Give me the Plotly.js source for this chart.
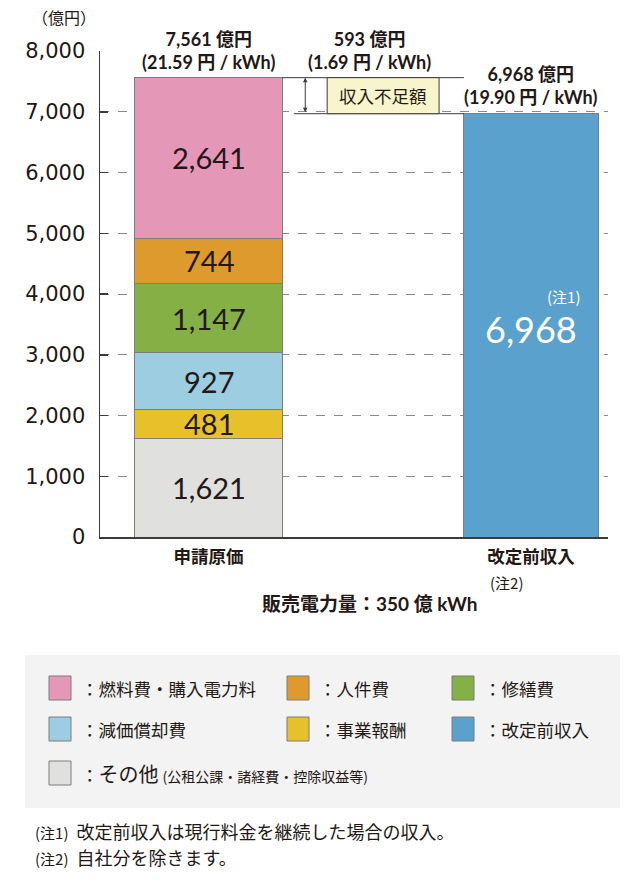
<!DOCTYPE html>
<html><head><meta charset="utf-8">
<script src="https://cdn.plot.ly/plotly-3.0.1.min.js"></script>
<style>html,body{margin:0;padding:0;background:#fff}</style>
</head><body><div id="chart" style="width:640px;height:891px"></div>
<script>
// ---- data ----
const categories = ['申請原価', '改定前収入'];
const costNames = ['その他', '事業報酬', '減価償却費', '修繕費', '人件費', '燃料費・購入電力料'];
const costValues = [1621, 481, 927, 1147, 744, 2641];
const costColors = ['#e0e0df', '#e6c12a', '#9ccde0', '#85b046', '#df9a2e', '#e597b8'];
const revenueName = '改定前収入';
const revenueValues = [6968];
const revenueColor = '#5aa2cd';
const yTickVals = [0, 1000, 2000, 3000, 4000, 5000, 6000, 7000, 8000];
const perKwh = ['21.59', '1.69', '19.90'];
const salesVolume = 350;
const legendRows = [
  ['燃料費・購入電力料', '人件費', '修繕費'],
  ['減価償却費', '事業報酬', '改定前収入'],
  ['その他']
];
const otherNote = '(公租公課・諸経費・控除収益等)';
const notes = [['(注1)', '改定前収入は現行料金を継続した場合の収入。'], ['(注2)', '自社分を除きます。']];

// ---- layout constants ----
const W = 640, H = 891, L = 100, R = 32, T = 51, B = 354;
const plotW = W - L - R, plotH = H - T - B;
const px = x => (x - L) / plotW;
const py = y => (H - B - y) / plotH;
const DARK = '#231815';
const NUMF = 'Lato, "Noto Sans CJK JP", sans-serif';
const JPF = '"Noto Sans CJK JP", sans-serif';
const wCost = 0.456, wRev = 0.416;

const totalCost = costValues.reduce((a, b) => a + b, 0);
const revenue = revenueValues[0];
const shortfall = totalCost - revenue;
const fmt = v => v.toLocaleString('en-US');

const traces = [];
costNames.forEach((n, i) => {
  traces.push({type: 'bar', name: n, x: [categories[0]], y: [costValues[i]], width: [wCost],
    marker: {color: costColors[i], line: {color: '#7d7d7d', width: 1}}, hoverinfo: 'skip', showlegend: false});
});
traces.push({type: 'bar', name: revenueName, x: [categories[1]], y: revenueValues, width: [wRev],
  marker: {color: revenueColor, line: {color: '#7d7d7d', width: 1}}, hoverinfo: 'skip', showlegend: false});

const annotations = [];
const shapes = [];

// segment labels
let cum = 0;
costValues.forEach(v => {
  annotations.push({x: 0, y: cum + v / 2, xref: 'x', yref: 'y', text: fmt(v), showarrow: false,
    font: {family: NUMF, size: 29, color: DARK}});
  cum += v;
});
annotations.push({x: 1, y: revenue / 2, yshift: -4, xref: 'x', yref: 'y', text: fmt(revenue), showarrow: false,
  font: {family: NUMF, size: 36, color: '#ffffff'}});
annotations.push({x: 1, y: revenue / 2, xshift: 32, yshift: 29, xref: 'x', yref: 'y', text: '(注1)', showarrow: false,
  font: {family: JPF, size: 15, color: '#ffffff'}});

// top labels
const topFont = {family: NUMF, size: 18, color: DARK, weight: 'bold'};
annotations.push({x: 0, y: totalCost, yshift: 3, xref: 'x', yref: 'y', yanchor: 'bottom', showarrow: false,
  text: fmt(totalCost) + ' 億円<br>(' + perKwh[0] + ' 円 / kWh)', font: topFont});
annotations.push({x: 0.5, y: totalCost, yshift: 3, xref: 'x', yref: 'y', yanchor: 'bottom', showarrow: false,
  text: fmt(shortfall) + ' 億円<br>(' + perKwh[1] + ' 円 / kWh)', font: topFont});
annotations.push({x: 1, y: revenue, yshift: 4, xref: 'x', yref: 'y', yanchor: 'bottom', showarrow: false,
  text: fmt(revenue) + ' 億円<br>(' + perKwh[2] + ' 円 / kWh)', font: topFont});

// shortfall lines, box, arrow
shapes.push({type: 'line', xref: 'x', yref: 'y', x0: wCost / 2, x1: 1 - wRev / 2, y0: totalCost, y1: totalCost, line: {color: '#3e3a39', width: 1}});
shapes.push({type: 'line', xref: 'x', yref: 'y', x0: 0.265, x1: 1 - wRev / 2, y0: revenue, y1: revenue, line: {color: '#3e3a39', width: 1}});
shapes.push({type: 'rect', xref: 'x', yref: 'y', x0: 0.368, x1: 0.715, y0: revenue, y1: totalCost, fillcolor: '#f8f4cb', line: {color: '#3e3a39', width: 1}});
annotations.push({x: 0.5415, y: (revenue + totalCost) / 2, xref: 'x', yref: 'y', text: '収入不足額', showarrow: false,
  font: {family: JPF, size: 17.5, color: DARK}});
annotations.push({x: 0.30, y: totalCost, ax: 0.30, ay: revenue, xref: 'x', yref: 'y', axref: 'x', ayref: 'y', text: '',
  showarrow: true, arrowside: 'end+start', arrowhead: 2, arrowsize: 0.9, arrowwidth: 1, arrowcolor: '#3e3a39', standoff: 0, startstandoff: 0});

// paper-positioned text helper
const ptext = (x, y, text, font, xanchor) => annotations.push({x: px(x), y: py(y), xref: 'paper', yref: 'paper',
  xanchor: xanchor || 'center', yanchor: 'middle', text: text, showarrow: false, font: font});

ptext(64, 17, '（億円）', {family: JPF, size: 16, color: DARK});
ptext(506, 582, '(注2)', {family: JPF, size: 15, color: DARK});
ptext(370, 603, '販売電力量：' + salesVolume + ' 億 kWh', {family: NUMF, size: 19, color: DARK, weight: 'bold'});

// legend box
shapes.push({type: 'rect', xref: 'paper', yref: 'paper', x0: px(25), x1: px(620), y0: py(655), y1: py(808), fillcolor: '#f3f3f3', line: {width: 0}, layer: 'below'});
const colorOf = n => n === revenueName ? revenueColor : costColors[costNames.indexOf(n)];
const colX = [49, 287, 452];
const rowY = [688, 729, 773];
legendRows.forEach((row, r) => {
  row.forEach((n, c) => {
    const x = colX[c], y = rowY[r];
    shapes.push({type: 'rect', xref: 'paper', yref: 'paper', x0: px(x), x1: px(x + 22), y0: py(y - 12), y1: py(y + 12),
      fillcolor: colorOf(n), line: {color: '#7d7d7d', width: 1}});
    const txt = n === 'その他'
      ? '：<span style="font-size:20px">その他</span> <span style="font-size:14px">' + otherNote + '</span>'
      : '：' + n;
    ptext(x + 30, y, txt, {family: JPF, size: 17.5, color: DARK}, 'left');
  });
});

// footnotes
notes.forEach((nt, i) => {
  ptext(33, 831 + i * 26, '<span style="font-size:15px">' + nt[0] + '</span>  ' + nt[1], {family: JPF, size: 18, color: DARK}, 'left');
});

const layout = {
  width: W, height: H, margin: {l: L, r: R, t: T, b: B},
  paper_bgcolor: '#ffffff', plot_bgcolor: '#ffffff',
  barmode: 'stack', showlegend: false,
  xaxis: {type: 'category', range: [(L - 208.5) / 322.5, 1 + (608 - 531) / 322.5], showgrid: false,
    showline: true, linecolor: '#3e3a39', linewidth: 1.5, ticks: '', zeroline: false,
    tickfont: {family: JPF, size: 17.5, color: DARK, weight: 'bold'}, ticklabelstandoff: 3, fixedrange: true},
  yaxis: {range: [0, 8000], tickvals: yTickVals, ticktext: yTickVals.map(fmt), showgrid: true,
    gridcolor: '#8a8a8a', griddash: 'dash', gridwidth: 1, zeroline: false,
    showline: true, linecolor: '#3e3a39', linewidth: 1.5, ticks: 'inside', ticklen: 8, tickcolor: '#3e3a39', tickwidth: 1.5,
    tickfont: {family: '"DejaVu Sans", sans-serif', size: 21, color: DARK}, ticklabelstandoff: 9, fixedrange: true},
  annotations: annotations, shapes: shapes
};
Plotly.newPlot('chart', traces, layout, {displayModeBar: false, staticPlot: true});
</script></body></html>
